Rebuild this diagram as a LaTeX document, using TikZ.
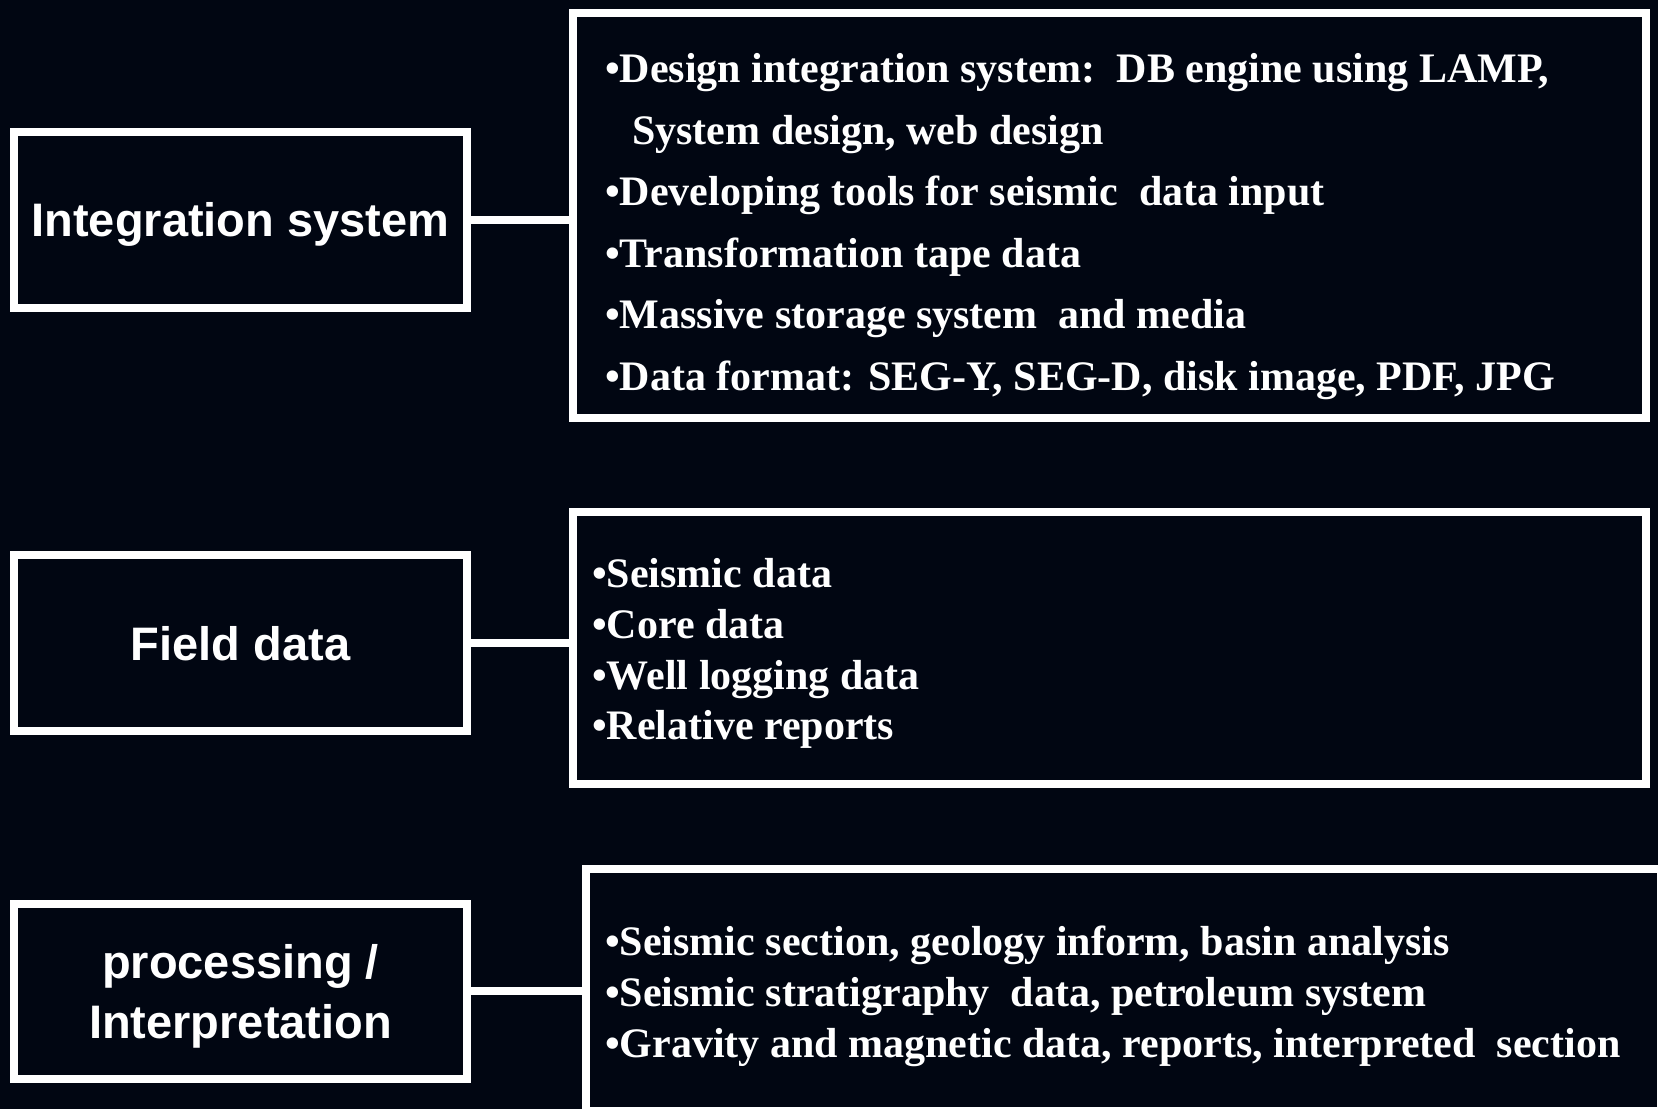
\documentclass[tikz,border=0pt]{standalone}
\usepackage{fontspec}
\setmainfont{Liberation Serif}
\newfontfamily\sansfam{Liberation Sans}
\definecolor{bg}{RGB}{1,6,18}
\begin{document}
\begin{tikzpicture}[x=1pt,y=-1pt,
  box/.style={draw=white, line width=8pt, fill=bg, inner sep=0pt, rectangle},
  lbl/.style={text=white, font=\sansfam\bfseries\fontsize{47}{60}\selectfont, align=center, inner sep=0pt},
  item/.style={text=white, font=\bfseries\fontsize{42}{50}\selectfont, anchor=base west, inner sep=0pt},
  link/.style={draw=white, line width=8pt}]
\fill[bg] (0,0) rectangle (1658,1109);
\useasboundingbox (0,0) rectangle (1658,1109);
\clip (0,0) rectangle (1658,1109);

% left boxes
\node[box, minimum width=453pt, minimum height=175.5pt] (LA) at (240.5,219.75) {};
\node[box, minimum width=453pt, minimum height=176pt] (LB) at (240.5,643) {};
\node[box, minimum width=453pt, minimum height=175.5pt] (LC) at (240.5,991.25) {};
\node[lbl] (tLA) at ([yshift=-5pt]LA.center) {Integration system};
\node[lbl] (tLB) at ([yshift=-1pt]LB.center) {Field data};
\node[lbl] (tLC) at ([yshift=-5pt]LC.center) {processing /\\Interpretation};

% right boxes
\node[box, minimum width=1073pt, minimum height=405pt] (RA) at (1109.5,215.5) {};
\node[box, minimum width=1073pt, minimum height=272.5pt] (RB) at (1109.5,647.75) {};
\node[box, minimum width=1075pt, minimum height=242pt] (RC) at (1123.5,990) {};

% connectors
\draw[link] (LA.east) -- (LA.east -| RA.west);
\draw[link] (LB.east) -- (LB.east -| RB.west);
\draw[link] (LC.east) -- (LC.east -| RC.west);

% box A items
\node[item] (a1) at (605,82.5) {•Design integration system:\ \ DB engine using LAMP,};
\node[item] (a2) at (632,144) {System design, web design};
\node[item] (a3) at (605,205.5) {•Developing tools for seismic\ \ data input};
\node[item] (a4) at (605,267) {•Transformation tape data};
\node[item] (a5) at (605,328.5) {•Massive storage system\ \ and media};
\node[item] (a6) at (605,390) {•Data format: SEG-Y, SEG-D, disk image, PDF, JPG};

% box B items
\node[item] (b1) at (592,587) {•Seismic data};
\node[item] (b2) at (592,638) {•Core data};
\node[item] (b3) at (592,689) {•Well logging data};
\node[item] (b4) at (592,739) {•Relative reports};

% box C items
\node[item] (c1) at (605,955) {•Seismic section, geology inform, basin analysis};
\node[item] (c2) at (605,1006) {•Seismic stratigraphy\ \ data, petroleum system};
\node[item] (c3) at (605,1057) {•Gravity and magnetic data, reports, interpreted\ \ section};
\end{tikzpicture}
\end{document}
